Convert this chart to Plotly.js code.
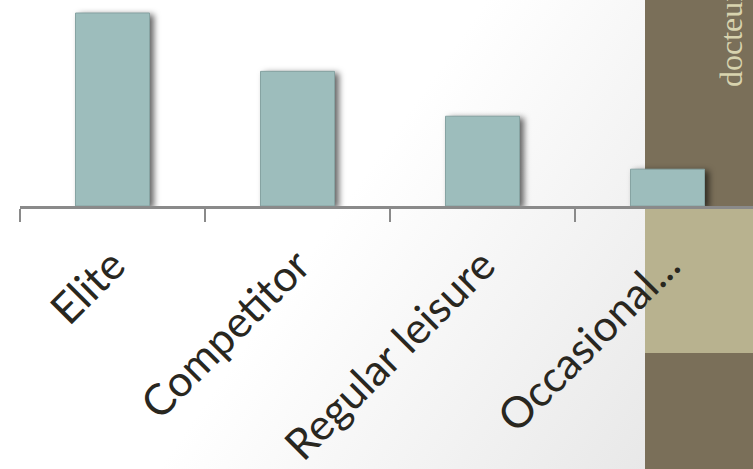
<!DOCTYPE html>
<html>
<head>
<meta charset="utf-8">
<script src="https://cdn.plot.ly/plotly-3.0.1.min.js"></script>
<style>
  html, body { margin: 0; padding: 0; }
  #chart {
    width: 753px; height: 469px;
    background: linear-gradient(125deg, #ffffff 0%, #ffffff 45%, #e3e3e3 100%);
  }
  #chart .trace.bars .point path {
    filter: drop-shadow(4px 2px 3px rgba(0,0,0,0.6));
  }
</style>
</head>
<body>
<div id="chart"></div>
<script>
// Data
const categories = ["Elite", "Competitor", "Regular leisure", "Occasional..."];
const values = [43, 30, 20, 8.2];
const sideText = "docteur";

const W = 753, H = 469;
const ml = 20, mt = 0, mb = 263;
const plotW = W - ml, plotH = H - mt - mb;
const catPx = 185;
const px2x = (px) => (px - ml) / plotW;
const py2y = (py) => (plotH - (py - mt)) / plotH;

const trace = {
  type: "bar",
  x: categories,
  y: values,
  width: 0.4,
  marker: { color: "#9dbdbc", line: { color: "#86a3a2", width: 1 } },
  hoverinfo: "none"
};

const layout = {
  width: W, height: H,
  margin: { l: ml, r: 0, t: mt, b: mb, pad: 0 },
  paper_bgcolor: "rgba(0,0,0,0)",
  plot_bgcolor: "rgba(0,0,0,0)",
  showlegend: false,
  xaxis: {
    type: "category",
    range: [-0.5, -0.5 + plotW / catPx],
    showline: true, linecolor: "#8a8a8a", linewidth: 3,
    ticks: "outside", ticklen: 13, tickwidth: 2, tickcolor: "#8a8a8a",
    tickson: "boundaries",
    tickangle: -45,
    ticklabelstandoff: 14,
    tickfont: { family: "Lato, 'Open Sans', sans-serif", size: 43, color: "#29271f" },
    showgrid: false, zeroline: false, fixedrange: true
  },
  yaxis: {
    range: [0, 45.9],
    visible: false, showgrid: false, zeroline: false, fixedrange: true
  },
  shapes: [
    { type: "rect", xref: "paper", yref: "paper", layer: "below",
      x0: px2x(645), x1: px2x(760), y0: py2y(0), y1: py2y(207),
      fillcolor: "#7a6f59", line: { width: 0 } },
    { type: "rect", xref: "paper", yref: "paper", layer: "below",
      x0: px2x(645), x1: px2x(760), y0: py2y(207), y1: py2y(353),
      fillcolor: "#b8b28f", line: { width: 0 } },
    { type: "rect", xref: "paper", yref: "paper", layer: "below",
      x0: px2x(645), x1: px2x(760), y0: py2y(353), y1: py2y(470),
      fillcolor: "#7a6f59", line: { width: 0 } }
  ],
  annotations: [
    { text: sideText, xref: "paper", yref: "paper",
      x: px2x(731), y: py2y(89), xanchor: "center", yanchor: "bottom",
      textangle: -90, showarrow: false,
      font: { family: "'Liberation Serif', serif", size: 32, color: "#d8d3ae" } }
  ]
};

Plotly.newPlot("chart", [trace], layout, { displayModeBar: false, staticPlot: true });
</script>
</body>
</html>
